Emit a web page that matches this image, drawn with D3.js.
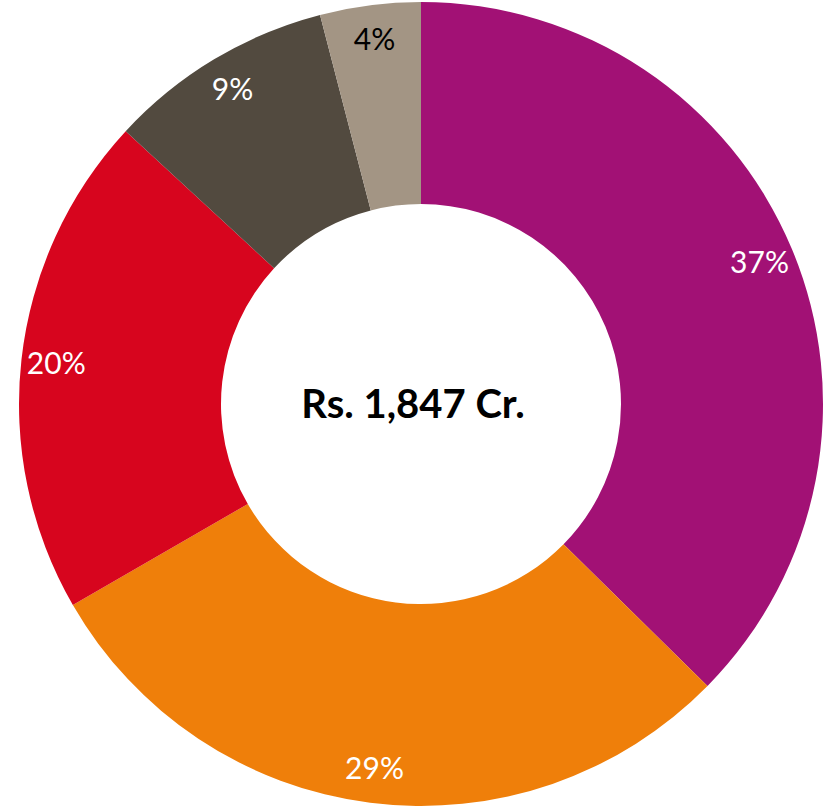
<!DOCTYPE html>
<html>
<head>
<meta charset="utf-8">
<script src="https://cdn.jsdelivr.net/npm/d3@7"></script>
<style>
  body { margin: 0; background: #fff; }
</style>
</head>
<body>
<div id="canvas"></div>
<script>
"use strict"

/* Drawing config */
let svgWidth = 824;
let svgHeight = 807;
let cx = 421;
let cy = 404;
let outerR = 402;
let innerR = 200;
let labelR = 367;

/* Data: share of total, clockwise from 12 o'clock */
let shares = [37, 29, 20, 9, 4];
let shareLabels = ["37%", "29%", "20%", "9%", "4%"];
let sliceColors = ["#a21175", "#ef7f0a", "#d7051e", "#524a3f", "#a39584"];
let labelColors = ["#fff", "#fff", "#fff", "#fff", "#000"];
let centerText = "Rs. 1,847 Cr.";

let svg = d3.select("#canvas")
    .append("svg")
    .attr("width", svgWidth)
    .attr("height", svgHeight);

let g = svg.append("g")
    .attr("transform", "translate(" + cx + "," + cy + ")");

let pie = d3.pie().sort(null).value(function(d) { return d; });
let arcs = pie(shares);

let arc = d3.arc().innerRadius(innerR).outerRadius(outerR);
let labelArc = d3.arc().innerRadius(labelR).outerRadius(labelR);

g.selectAll("path")
  .data(arcs)
  .enter()
  .append("path")
  .attr("d", arc)
  .attr("fill", function(d, i) { return sliceColors[i]; });

// percentage labels
g.selectAll("text.pct")
  .data(arcs)
  .enter()
  .append("text")
  .attr("class", "pct")
  .attr("transform", function(d) { return "translate(" + labelArc.centroid(d) + ")"; })
  .attr("text-anchor", "middle")
  .attr("dy", "0.35em")
  .style("font-family", "Lato, 'Open Sans', sans-serif")
  .style("font-size", "30px")
  .style("fill", function(d, i) { return labelColors[i]; })
  .text(function(d, i) { return shareLabels[i]; });

// total in the hole
g.append("text")
  .attr("x", -8)
  .attr("text-anchor", "middle")
  .attr("dy", "0.35em")
  .style("font-family", "Lato, 'Open Sans', sans-serif")
  .style("font-size", "40px")
  .style("font-weight", "bold")
  .style("fill", "#000")
  .text(centerText);
</script>
</body>
</html>
